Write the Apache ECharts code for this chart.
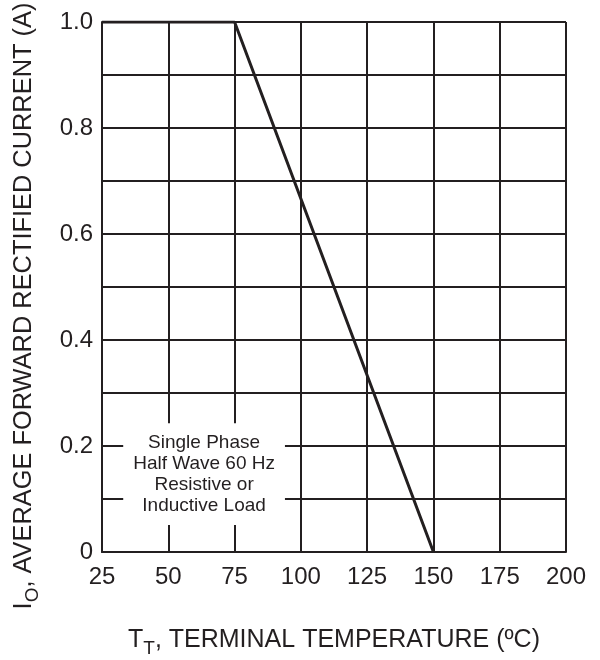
<!DOCTYPE html>
<html><head><meta charset="utf-8">
<script src="https://cdn.jsdelivr.net/npm/echarts@6/dist/echarts.min.js"></script>
<style>html,body{margin:0;padding:0;background:#fff}#c{width:600px;height:660px}</style>
</head><body><div id="c"></div>
<script>
var tempX = [25, 75, 150];
var currentY = [1.0, 1.0, 0];
var xTicks = [25, 50, 75, 100, 125, 150, 175, 200];
var yTickLabels = {0: '0', 0.2: '0.2', 0.4: '0.4', 0.6: '0.6', 0.8: '0.8', 1: '1.0'};
var noteLines = ['Single Phase', 'Half Wave 60 Hz', 'Resistive or', 'Inductive Load'];
var noteArea = [[33, 0.243], [94, 0.051]];

var C = '#231f20';
var F = 'Liberation Sans, Arial, sans-serif';
var chart = echarts.init(document.getElementById('c'));
chart.setOption({
  animation: false,
  grid: {left: 102, right: 34, top: 22, bottom: 108},
  xAxis: {
    type: 'value', min: 25, max: 200, interval: 25,
    axisLine: {show: true, lineStyle: {color: C, width: 2}},
    axisTick: {show: false},
    splitLine: {show: true, lineStyle: {color: C, width: 2}},
    axisLabel: {color: C, fontSize: 24, fontFamily: F, margin: 13}
  },
  yAxis: {
    type: 'value', min: 0, max: 1, interval: 0.1,
    axisLine: {show: true, lineStyle: {color: C, width: 2}},
    axisTick: {show: false},
    splitLine: {show: true, lineStyle: {color: C, width: 2}},
    axisLabel: {color: C, fontSize: 24, fontFamily: F, margin: 9,
      formatter: function (v) { var k = Math.round(v * 10) / 10; return yTickLabels[k] !== undefined ? yTickLabels[k] : ''; }}
  },
  series: [{
    type: 'line',
    data: tempX.map(function (x, i) { return [x, currentY[i]]; }),
    symbol: 'none',
    lineStyle: {color: C, width: 3},
    z: 5,
    markArea: {
      silent: true,
      itemStyle: {color: '#ffffff', opacity: 1},
      label: {show: true, position: 'inside', color: C, fontSize: 19, lineHeight: 21,
        fontFamily: F, formatter: noteLines.join('\n')},
      data: [[{coord: noteArea[0]}, {coord: noteArea[1]}]]
    }
  }],
  graphic: [
    {
      type: 'text', x: 334, y: 622,
      style: {
        text: '{m|T}{s|T}{m|, TERMINAL TEMPERATURE (ºC)}',
        align: 'center', verticalAlign: 'top',
        rich: {
          m: {fontSize: 25, fontFamily: F, fill: C, lineHeight: 36, verticalAlign: 'middle'},
          s: {fontSize: 19, fontFamily: F, fill: C, lineHeight: 36, verticalAlign: 'bottom'}
        }
      }
    },
    {
      type: 'text', x: 24, y: 306, rotation: Math.PI / 2,
      style: {
        text: '{m|I}{s|O}{m|, AVERAGE FORWARD RECTIFIED CURRENT (A)}',
        align: 'center', verticalAlign: 'middle',
        rich: {
          m: {fontSize: 25.4, fontFamily: F, fill: C, lineHeight: 36, verticalAlign: 'middle'},
          s: {fontSize: 19, fontFamily: F, fill: C, lineHeight: 36, verticalAlign: 'bottom'}
        }
      }
    }
  ]
});
</script></body></html>
